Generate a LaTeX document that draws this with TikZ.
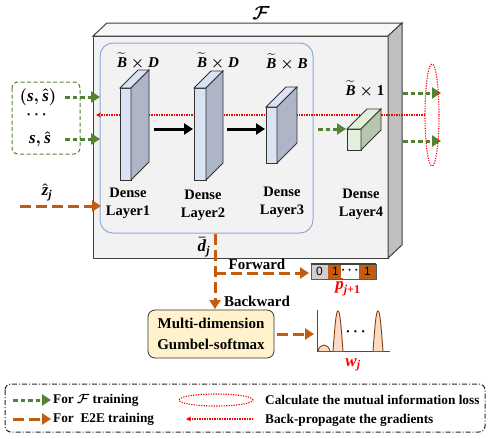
\documentclass[tikz,border=0pt]{standalone}
\usepackage{fix-cm}
\usepackage{amsmath,amssymb,bm}
\usepackage{fontspec}
\setmainfont{Liberation Serif}
\newfontfamily\arialfont{Liberation Sans}
\usetikzlibrary{arrows.meta,shapes.geometric}
\definecolor{grn}{HTML}{548235}
\definecolor{org}{HTML}{C55A11}
\definecolor{rd}{HTML}{FF0000}
\definecolor{boxbg}{HTML}{F2F2F2}
\definecolor{boxside}{HTML}{C0C0C0}
\definecolor{boxline}{HTML}{404040}
\definecolor{inblue}{HTML}{8FAADC}
\definecolor{lfront}{HTML}{DAE3F3}
\definecolor{lside}{HTML}{ADB5C6}
\definecolor{gfront}{HTML}{E2F0D9}
\definecolor{gside}{HTML}{B8C7AB}
\definecolor{gumbel}{HTML}{FFF2CC}
\definecolor{pinkf}{HTML}{F8CBAD}
\definecolor{brn}{HTML}{843C0C}
\definecolor{cellgray}{HTML}{D0CECE}
\newcommand\mv[1]{\textbf{\textit{#1}}}
\tikzset{
  gdot/.style={draw=grn, line width=3pt, dash pattern=on 4.5pt off 3pt, -{Triangle[length=9pt,width=11pt]}},
  odash/.style={draw=org, line width=3pt, dash pattern=on 11pt off 5pt, -{Triangle[length=9pt,width=11pt]}},
  rdot/.style={draw=rd, line width=1.1pt, dash pattern=on 1.2pt off 1.3pt},
  blk/.style={draw=black, line width=3pt, -{Triangle[length=9pt,width=11pt]}},
  lbl/.style={font=\bfseries\boldmath\fontsize{14.5}{18}\selectfont, align=center, inner sep=0pt},
  mlbl/.style={font=\bfseries\boldmath\fontsize{15}{18}\selectfont, inner sep=0pt},
  lgd/.style={font=\bfseries\boldmath\fontsize{13.3}{16}\selectfont, anchor=west, inner sep=0pt},
  layerline/.style={draw=black!80, line width=0.8pt},
  cell/.style={minimum height=15pt, inner sep=0pt, font=\arialfont\fontsize{12}{12}\selectfont}
}
\newcommand\mylayer[7]{%
  \filldraw[layerline, fill=#6] (#1,#2) rectangle ++(#3,#4);
  \filldraw[layerline, fill=#6] (#1,#2) -- ++(#5,-#5) -- ++(#3,0) -- ++(-#5,#5) -- cycle;
  \filldraw[layerline, fill=#7] (#1+#3,#2) -- ++(#5,-#5) -- ++(0,#4) -- ++(-#5,#5) -- cycle;
}
\begin{document}
\begin{tikzpicture}[x=1pt,y=-1pt]
\useasboundingbox (0,0) rectangle (490,439);

% main box F
\filldraw[draw=boxline, line width=1pt, fill=boxbg] (93,36) rectangle (388,258);
\filldraw[draw=boxline, line width=1pt, fill=boxbg!60!white] (93,36) -- (107,23) -- (402,23) -- (388,36) -- cycle;
\filldraw[draw=boxline, line width=1pt, fill=boxside] (388,36) -- (402,23) -- (402,245) -- (388,258) -- cycle;
\node[mlbl, font=\boldmath\fontsize{19}{19}\selectfont] (F) at (261,13) {$\mathcal{F}$};

% inner blue box
\draw[draw=inblue, line width=1pt, rounded corners=13pt] (100,43) rectangle (313,233);

% red back-propagation line (behind layers)
\coordinate (rstart) at (425,115);
\coordinate (rend) at (96,115);
\draw[rdot, -{Stealth[length=5pt,width=5pt]}] (rstart) -- (rend);

% layers
\mylayer{120}{88}{11}{92}{18}{lfront}{lside}
\mylayer{194}{88}{12}{92}{17}{lfront}{lside}
\mylayer{266}{107}{11}{56}{20}{lfront}{lside}
\mylayer{347}{129}{14}{21}{20}{gfront}{gside}

% dims labels
\node[mlbl] (d1) at (138,61) {$\widetilde{\mv{B}}\times\mv{D}$};
\node[mlbl] (d2) at (218,61) {$\widetilde{\mv{B}}\times\mv{D}$};
\node[mlbl] (d3) at (287,62) {$\widetilde{\mv{B}}\times\mv{B}$};
\node[mlbl] (d4) at (365,89) {$\widetilde{\mv{B}}\times\textbf{1}$};

% layer labels
\node[lbl] (n1) at (128,203) {Dense\\Layer1};
\node[lbl] (n2) at (203,205) {Dense\\Layer2};
\node[lbl] (n3) at (282,202) {Dense\\Layer3};
\node[lbl] (n4) at (361,204) {Dense\\Layer4};

% black arrows between layers
\coordinate (a1s) at (154,129); \coordinate (a1e) at (193,129);
\coordinate (a2s) at (227,129); \coordinate (a2e) at (265,129);
\draw[blk] (a1s) -- (a1e);
\draw[blk] (a2s) -- (a2e);

% green arrow to layer4
\coordinate (g4s) at (318,129); \coordinate (g4e) at (346,129);
\draw[gdot] (g4s) -- (g4e);

% left input group
\draw[draw=grn, line width=1pt, dash pattern=on 4pt off 2.5pt, rounded corners=6pt] (12,82) rectangle (80,154);
\node[mlbl, font=\bfseries\boldmath\fontsize{17}{18}\selectfont] (in1) at (38,97) {$(\mv{s},\hat{\mv{s}})$};
\node[mlbl] (in2) at (38,115) {$\bm{\cdots}$};
\node[mlbl, font=\bfseries\boldmath\fontsize{17}{18}\selectfont] (in3) at (40,139) {$\mv{s},\hat{\mv{s}}$};
\coordinate (i1s) at (65,97); \coordinate (i1e) at (100,97);
\coordinate (i2s) at (65,139); \coordinate (i2e) at (100,139);
\draw[gdot] (i1s) -- (i1e);
\draw[gdot] (i2s) -- (i2e);

% z hat input
\node[mlbl, font=\bfseries\boldmath\fontsize{17}{18}\selectfont] (zj) at (47,192) {$\hat{\mv{z}}_{\mv{j}}$};
\coordinate (zs) at (20,206); \coordinate (ze) at (101,206);
\draw[odash] (zs) -- (ze);

% outputs and ellipse
\coordinate (o1s) at (403,93); \coordinate (o1e) at (441,93);
\coordinate (o2s) at (403,141); \coordinate (o2e) at (441,141);
\draw[gdot] (o1s) -- (o1e);
\draw[gdot] (o2s) -- (o2e);
\draw[rdot] (432,115) ellipse [x radius=7pt, y radius=51pt];

% d bar output
\node[mlbl, font=\bfseries\boldmath\fontsize{17}{18}\selectfont] (dj) at (204,247) {$\bar{\mv{d}}_{\mv{j}}$};
\coordinate (ds) at (215,234);
\coordinate (db) at (215,273);
\coordinate (dend) at (215,309);
\coordinate (fend) at (309,273);
\draw[odash] (ds) -- (dend);
\draw[odash] (db) -- (fend);
\node[mlbl] (fw) at (257,264) {Forward};
\node[mlbl] (bw) at (257,301) {Backward};

% p vector
\node[cell, fill=cellgray, minimum width=17pt] (c0) at (319.5,271.5) {0};
\node[cell, fill=org, minimum width=15pt] (c1) at (335.5,271.5) {1};
\node[cell, fill=white, minimum width=16pt, font=\bfseries\boldmath\fontsize{13}{13}\selectfont] (cd) at (351,270.5) {$\bm{\cdots}$};
\node[cell, fill=org, minimum width=17pt] (c2) at (367.5,271.5) {1};
\draw[draw=gray!70!black, line width=0.8pt] (311,264) rectangle (376,279);
\draw[draw=black!75, line width=1.5pt] (311,264) -- (376,264);
\node[mlbl, text=rd, font=\bfseries\boldmath\fontsize{17}{18}\selectfont] (pj) at (348,289) {$\mv{p}_{\mv{j}\textbf{+1}}$};

% Gumbel box
\node[lbl, font=\bfseries\fontsize{15}{18}\selectfont, draw=black!80, line width=0.8pt, fill=gumbel, rounded corners=7pt, minimum width=126pt, minimum height=48pt] (gb) at (211,334) {Multi-dimension\\[3pt]Gumbel-softmax};
\coordinate (ge) at (314,334);
\draw[odash] (gb.east) ++(3,0) coordinate (gs) -- (ge);

% plot w_j
\draw[draw=gray!60!black, line width=1pt] (317,310) -- (317,351) -- (390,351);
\filldraw[draw=brn, line width=0.9pt, fill=pinkf!70] (318,351) .. controls (320,343) and (328,343) .. (330,351);
\filldraw[draw=brn, line width=0.9pt, fill=pinkf!70] (333,351) .. controls (335,325) and (336,311) .. (338,311) .. controls (340,311) and (341,325) .. (343,351);
\filldraw[draw=brn, line width=0.9pt, fill=pinkf!70] (373,351) .. controls (375,325) and (376,311) .. (378,311) .. controls (380,311) and (381,325) .. (383,351);
\node[mlbl] (pd) at (357,332) {$\bm{\cdots}$};
\node[mlbl, text=rd, font=\bfseries\boldmath\fontsize{17}{18}\selectfont] (wj) at (353,365) {$\mv{w}_{\mv{j}}$};

% legend
\draw[draw=black!85, line width=1pt, dash pattern=on 5pt off 2pt on 1pt off 2pt, rounded corners=6pt] (5,384) rectangle (485,432);
\coordinate (l1s) at (13,400); \coordinate (l1e) at (51,400);
\coordinate (l2s) at (13,419); \coordinate (l2e) at (51,419);
\draw[gdot] (l1s) -- (l1e);
\draw[odash] (l2s) -- (l2e);
\node[lgd] (t1) at (53,400) {For $\mathcal{F}$ training};
\node[lgd] (t2) at (53,419) {For\ \ E2E training};
\draw[rdot] (216,400) ellipse [x radius=37pt, y radius=6pt];
\coordinate (l4s) at (253,419); \coordinate (l4e) at (186,419);
\draw[rdot, -{Stealth[length=5pt,width=5pt]}] (l4s) -- (l4e);
\node[lgd] (t3) at (265,400) {Calculate the mutual information loss};
\node[lgd] (t4) at (265,420) {Back-propagate the gradients};
\end{tikzpicture}
\end{document}
